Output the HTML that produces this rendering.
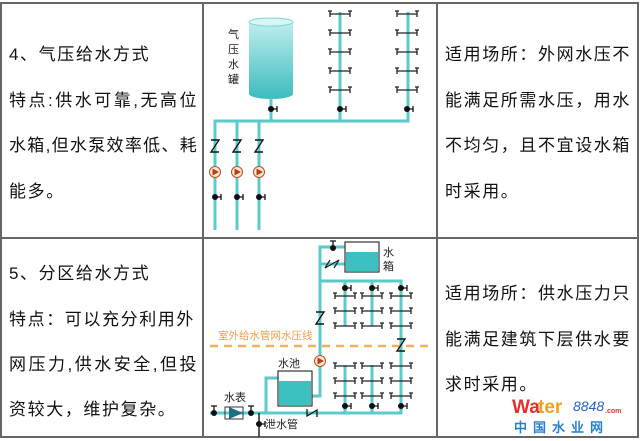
<!DOCTYPE html>
<html><head><meta charset="utf-8">
<style>
html,body{margin:0;padding:0;background:#fff;}
#w{position:relative;width:640px;height:441px;overflow:hidden;font-family:"Liberation Sans","Noto Sans CJK SC",sans-serif;}
.t{position:absolute;font-size:17px;line-height:20px;letter-spacing:1.6px;color:#111;white-space:nowrap;}
svg{position:absolute;left:0;top:0;}
</style></head><body><div id="w">
<svg id="s" width="640" height="441" xmlns="http://www.w3.org/2000/svg">
<defs><linearGradient id="g" x1="0" y1="0" x2="0" y2="1"><stop offset="0" stop-color="#bfeeee"/><stop offset="1" stop-color="#3cbcbc"/></linearGradient></defs>
<g stroke="#666" stroke-width="2" fill="none">
<rect x="1" y="3" width="637" height="434"/>
<line x1="203" y1="3" x2="203" y2="437"/><line x1="437" y1="3" x2="437" y2="437"/>
<line x1="1" y1="238" x2="638" y2="238"/>
</g>
<path d="M249 22 V94 A22 5 0 0 0 293 94 V22 Z" fill="url(#g)"/>
<ellipse cx="271" cy="22" rx="22" ry="4" fill="#d8f6f6" stroke="#7fd3d3"/>
<g font-size="11" fill="#222"><text x="228" y="38">气</text><text x="228" y="53">压</text><text x="228" y="68">水</text><text x="228" y="83">罐</text></g>
<g stroke="#5ccaca" stroke-width="3" fill="none">
<path d="M215 230 V121 H408 V12"/><path d="M340 12 V121"/><path d="M271 98 V121"/>
<path d="M237 121 V230"/><path d="M259 121 V230"/>
</g>
<g stroke="#5ccaca" stroke-width="3" fill="none">
<path d="M210 413 H401 V281 H320 V247 H345"/><path d="M320 281 V396 H312"/>
<path d="M345 281 V326"/><path d="M372 281 V326"/>
<path d="M345 365 V413"/><path d="M372 365 V413"/>
<path d="M266 413 V378 H278"/><path d="M320 264 H345"/>
</g>
<rect x="345" y="242" width="34" height="30" fill="#fff" stroke="#333" stroke-width="1.2"/>
<rect x="346" y="252" width="32" height="19" fill="#3cc0c0"/>
<rect x="278" y="371" width="34" height="35" fill="#fff" stroke="#333" stroke-width="1.2"/>
<rect x="279" y="381" width="32" height="24" fill="#3cc0c0"/>
<g font-size="11" fill="#222"><text x="383" y="256">水</text><text x="383" y="270">箱</text><text x="278" y="367">水池</text><text x="224" y="401">水表</text><text x="265" y="428">泄水管</text></g>
<line x1="210" y1="346" x2="430" y2="346" stroke="#f0b060" stroke-width="2.5" stroke-dasharray="8,6"/>
<text x="218" y="339" font-size="10.5" fill="#e8a050">室外给水管网水压线</text>
<path d="M229 407 L243 413 L229 419 Z" fill="#1f6f80"/><rect x="225" y="407" width="18" height="12" fill="none" stroke="#333"/>
<path d="M330 260 L325 268 L339 260 L334 268" stroke="#222" fill="none" stroke-width="1.2"/>
<path d="M259 413 V437" stroke="#222" stroke-width="1.5"/>
<g id="dyn"></g>
<g font-weight="bold" font-family="Liberation Sans,sans-serif">
<text x="512" y="413" font-size="19" fill="#e03030">Wa</text><text x="538" y="413" font-size="19" fill="#f0a020">ter</text><text x="573" y="411" font-size="14" font-style="italic" fill="#2a60c0" font-weight="normal">8848</text><text x="605" y="413" font-size="7" fill="#e03030">.com</text>
<text x="514" y="432" font-size="13" fill="#2a80d0" letter-spacing="6">中国水业网</text></g>
</svg>
<div class="t" style="left:9px;top:45px">4、气压给水方式</div>
<div class="t" style="left:9px;top:91px;letter-spacing:2.5px">特点:供水可靠,无高位</div>
<div class="t" style="left:9px;top:136px;letter-spacing:1.3px">水箱,但水泵效率低、耗</div>
<div class="t" style="left:9px;top:182px">能多。</div>
<div class="t" style="left:9px;top:264px">5、分区给水方式</div>
<div class="t" style="left:9px;top:310px">特点：可以充分利用外</div>
<div class="t" style="left:9px;top:355px;letter-spacing:2.5px">网压力,供水安全,但投</div>
<div class="t" style="left:9px;top:400px">资较大，维护复杂。</div>
<div class="t" style="left:445px;top:45px">适用场所：外网水压不</div>
<div class="t" style="left:445px;top:91px">能满足所需水压，用水</div>
<div class="t" style="left:445px;top:136px">不均匀，且不宜设水箱</div>
<div class="t" style="left:445px;top:182px">时采用。</div>
<div class="t" style="left:445px;top:284px">适用场所：供水压力只</div>
<div class="t" style="left:445px;top:330px">能满足建筑下层供水要</div>
<div class="t" style="left:445px;top:375px">求时采用。</div>
</div>
<script>
var g=document.getElementById('dyn'),h='';
function fau(x,y){h+='<path d="M'+(x-10)+' '+y+' H'+(x+10)+' M'+(x-10)+' '+(y-3)+' v6 M'+(x-12)+' '+(y-3)+' h4 M'+(x+10)+' '+(y-3)+' v6 M'+(x+8)+' '+(y-3)+' h4" stroke="#222" stroke-width="1.3" fill="none"/>';}
function valve(x,y){h+='<circle cx="'+x+'" cy="'+y+'" r="3" fill="#111"/><path d="M'+x+' '+y+' h6 M'+(x+6)+' '+(y-3)+' v6" stroke="#111" stroke-width="1.3"/>';}
function vT(x,y){h+='<circle cx="'+x+'" cy="'+y+'" r="3" fill="#111"/><path d="M'+x+' '+y+' v-7 M'+(x-3)+' '+(y-7)+' h6" stroke="#111" stroke-width="1.3"/>';}
function Z(x,y){h+='<path d="M'+(x-4)+' '+(y-6)+' h8 l-8 12 h8" stroke="#111" stroke-width="1.4" fill="none"/>';}
function pump(x,y){h+='<circle cx="'+x+'" cy="'+y+'" r="5.5" fill="#fbe8d8" stroke="#b85020"/><path d="M'+(x-2.5)+' '+(y-3.5)+' L'+(x+4)+' '+y+' L'+(x-2.5)+' '+(y+3.5)+' Z" fill="#b84010"/>';}
[340,407].forEach(function(x){[14,33,52,71,90].forEach(function(y){fau(x,y)});valve(x,109);});
valve(271,109);
[215,237,259].forEach(function(x){Z(x,146);pump(x,172);valve(x,197);});
[345,372,401].forEach(function(x){valve(x,288);[296,311,326].forEach(function(y){fau(x,y)});[366,381,396].forEach(function(y){fau(x,y)});valve(x,406);});
Z(320,318);Z(401,345);pump(320,361);
vT(333,248);vT(214,413);vT(251,413);valve(259,424);
h+='<path d="M307 409 v7 l10 -6 v7" stroke="#111" stroke-width="1.3" fill="none"/>';
g.innerHTML=h;
</script>
</body></html>
